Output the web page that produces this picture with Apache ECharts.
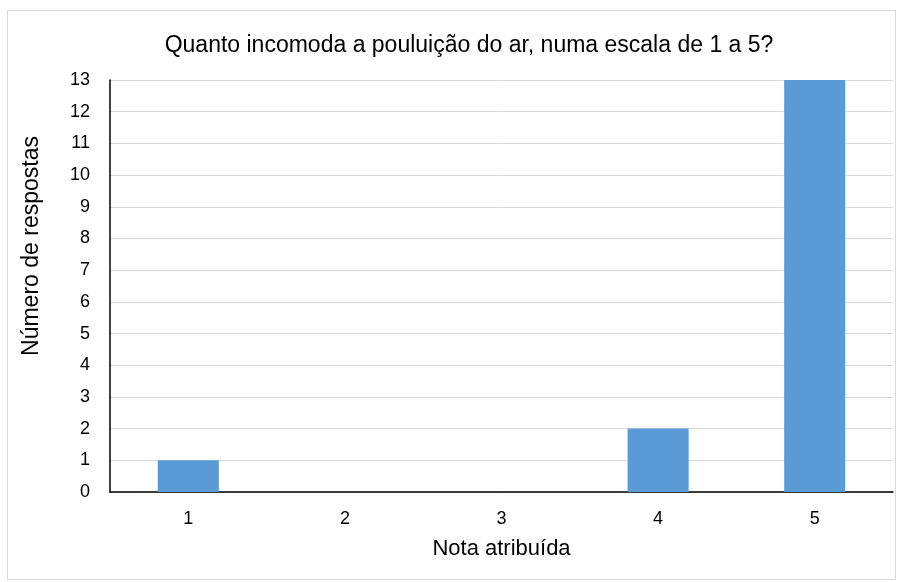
<!DOCTYPE html>
<html>
<head>
<meta charset="utf-8">
<script src="https://cdn.jsdelivr.net/npm/echarts@6/dist/echarts.min.js"></script>
<style>
  html, body { margin: 0; padding: 0; background: #fff; }
  #frame {
    position: absolute; left: 7px; top: 10px; width: 889px; height: 570px;
    border: 1px solid #d9d9d9; box-sizing: border-box;
  }
  #chart { position: absolute; left: 0; top: 0; width: 899px; height: 582px; }
</style>
</head>
<body>
<div id="frame"></div>
<div id="chart"></div>
<script>
  const categories = ["1", "2", "3", "4", "5"];
  const respostas = [1, 0, 0, 2, 13];

  let myChart = echarts.init(document.getElementById("chart"));
  const font = "Liberation Sans, Arial, sans-serif";
  let option = {
    animation: false,
    title: {
      text: "Quanto incomoda a pouluição do ar, numa escala de 1 a 5?",
      left: 464,
      textAlign: "center",
      top: 29,
      textStyle: { fontFamily: font, fontSize: 23, fontWeight: "normal", color: "#000" },
    },
    grid: { left: 110, right: 6, top: 80, bottom: 90 },
    xAxis: {
      type: "category",
      data: categories,
      name: "Nota atribuída",
      nameLocation: "middle",
      nameGap: 46,
      nameTextStyle: { fontFamily: font, fontSize: 22, color: "#000" },
      axisLine: { lineStyle: { color: "#000", width: 1.5 } },
      axisTick: { show: false },
      axisLabel: { fontFamily: font, fontSize: 18, color: "#000", margin: 18 },
    },
    yAxis: {
      type: "value",
      min: 0,
      max: 13,
      interval: 1,
      name: "Número de respostas",
      nameLocation: "middle",
      nameGap: 67,
      nameTextStyle: { fontFamily: font, fontSize: 23, color: "#000", padding: [0, 0, 0, 80] },
      axisLine: { show: true, lineStyle: { color: "#000", width: 1.5 } },
      axisTick: { show: false },
      axisLabel: { fontFamily: font, fontSize: 18, color: "#000", margin: 20 },
      splitLine: { lineStyle: { color: "#d9d9d9", width: 1 } },
    },
    series: [
      {
        type: "bar",
        data: respostas,
        barWidth: "39%",
        itemStyle: { color: "#5b9bd5" },
      },
    ],
  };
  myChart.setOption(option);
</script>
</body>
</html>
